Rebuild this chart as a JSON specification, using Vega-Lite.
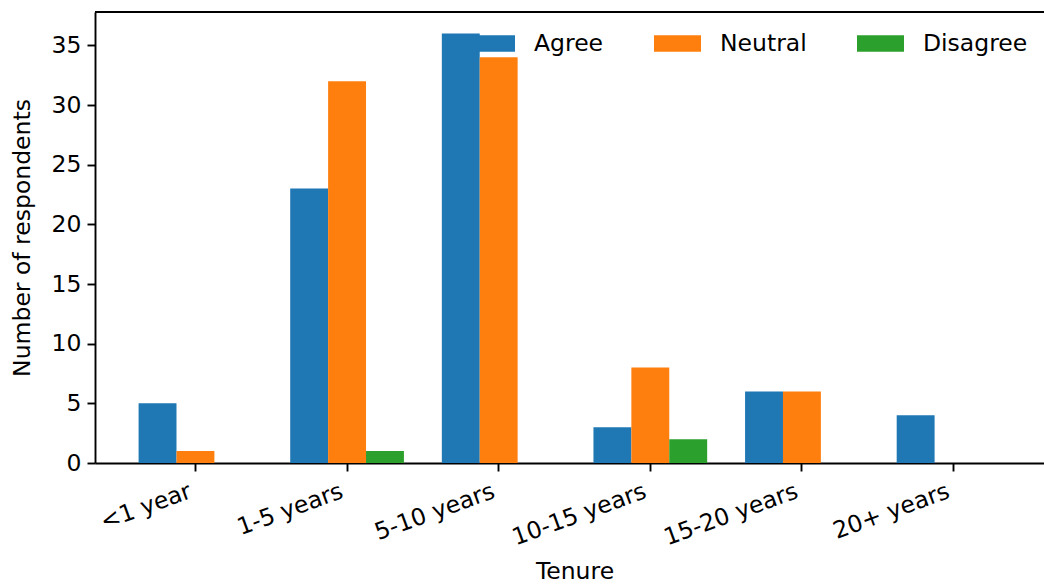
{
  "$schema": "https://vega.github.io/schema/vega-lite/v6.json",
  "width": 949,
  "height": 451,
  "autosize": {"type": "none"},
  "padding": {"left": 95, "top": 12, "right": 0, "bottom": 122},
  "background": "white",
  "config": {
    "font": "DejaVu Sans",
    "view": {"stroke": null},
    "axis": {
      "grid": false,
      "domainColor": "black",
      "domainWidth": 1.9,
      "tickColor": "black",
      "tickWidth": 1.9,
      "tickSize": 8,
      "labelFontSize": 23.5,
      "labelColor": "black",
      "labelFont": "DejaVu Sans",
      "titleFont": "DejaVu Sans",
      "titleFontSize": 23.5,
      "titleFontWeight": "normal",
      "titleColor": "black"
    },
    "legend": {
      "orient": "none",
      "legendX": 373,
      "legendY": 8,
      "direction": "horizontal",
      "columns": 3,
      "symbolType": "M-1,-0.35H1V0.35H-1Z",
      "symbolSize": 2209,
      "symbolStrokeWidth": 0,
      "symbolOpacity": 1,
      "labelFontSize": 23.5,
      "labelFont": "DejaVu Sans",
      "labelColor": "black",
      "labelOffset": 19,
      "columnPadding": 50
    }
  },
  "data": {
    "values": [
      {"tenure": "<1 year", "response": "Agree", "count": 5},
      {"tenure": "<1 year", "response": "Neutral", "count": 1},
      {"tenure": "<1 year", "response": "Disagree", "count": 0},
      {"tenure": "1-5 years", "response": "Agree", "count": 23},
      {"tenure": "1-5 years", "response": "Neutral", "count": 32},
      {"tenure": "1-5 years", "response": "Disagree", "count": 1},
      {"tenure": "5-10 years", "response": "Agree", "count": 36},
      {"tenure": "5-10 years", "response": "Neutral", "count": 34},
      {"tenure": "5-10 years", "response": "Disagree", "count": 0},
      {"tenure": "10-15 years", "response": "Agree", "count": 3},
      {"tenure": "10-15 years", "response": "Neutral", "count": 8},
      {"tenure": "10-15 years", "response": "Disagree", "count": 2},
      {"tenure": "15-20 years", "response": "Agree", "count": 6},
      {"tenure": "15-20 years", "response": "Neutral", "count": 6},
      {"tenure": "15-20 years", "response": "Disagree", "count": 0},
      {"tenure": "20+ years", "response": "Agree", "count": 4},
      {"tenure": "20+ years", "response": "Neutral", "count": 0},
      {"tenure": "20+ years", "response": "Disagree", "count": 0}
    ]
  },
  "layer": [
    {
      "mark": {"type": "bar"},
      "encoding": {
        "x": {
          "field": "tenure",
          "type": "nominal",
          "sort": ["<1 year", "1-5 years", "5-10 years", "10-15 years", "15-20 years", "20+ years"],
          "scale": {"range": [0, 959], "paddingInner": 0.25, "paddingOuter": 0.2875},
          "title": "Tenure",
          "axis": {"labelAngle": -20, "labelAlign": "right", "labelBaseline": "top", "labelPadding": 8, "labelOffset": -9, "titlePadding": 10}
        },
        "xOffset": {"field": "response", "type": "nominal", "sort": ["Agree", "Neutral", "Disagree"]},
        "y": {
          "field": "count",
          "type": "quantitative",
          "scale": {"domain": [0, 37.8], "nice": false},
          "title": "Number of respondents",
          "axis": {"values": [0, 5, 10, 15, 20, 25, 30, 35], "labelPadding": 6, "titlePadding": 17}
        },
        "color": {
          "field": "response",
          "type": "nominal",
          "sort": ["Agree", "Neutral", "Disagree"],
          "scale": {"domain": ["Agree", "Neutral", "Disagree"], "range": ["#1f77b4", "#ff7f0e", "#2ca02c"]},
          "legend": {"title": null}
        }
      }
    },
    {
      "data": {"values": [{}]},
      "mark": {"type": "rule", "color": "black", "strokeWidth": 1.9},
      "encoding": {"y": {"datum": 37.8}}
    }
  ]
}
